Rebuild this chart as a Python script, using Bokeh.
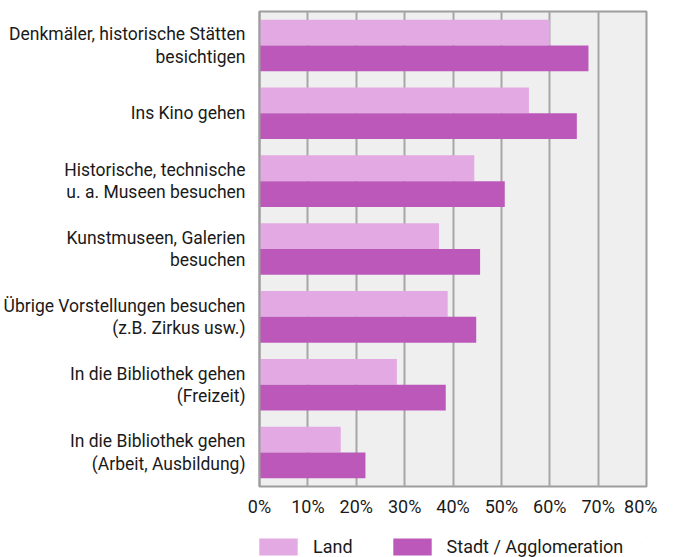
from bokeh.plotting import figure
from bokeh.layouts import column
from bokeh.models import (ColumnDataSource, FactorRange, Range1d, FixedTicker,
                          NumeralTickFormatter, Legend, LegendItem)
from bokeh.transform import dodge
from bokeh.embed import file_html
from bokeh.resources import INLINE

categories = [
    "Denkmäler, historische Stätten\nbesichtigen",
    "Ins Kino gehen",
    "Historische, technische\nu. a. Museen besuchen",
    "Kunstmuseen, Galerien\nbesuchen",
    "Übrige Vorstellungen besuchen\n(z.B. Zirkus usw.)",
    "In die Bibliothek gehen\n(Freizeit)",
    "In die Bibliothek gehen\n(Arbeit, Ausbildung)",
]
land = [0.60, 0.557, 0.444, 0.371, 0.389, 0.284, 0.168]
stadt = [0.68, 0.656, 0.507, 0.456, 0.448, 0.385, 0.219]
x_ticks = [0.0, 0.1, 0.2, 0.3, 0.4, 0.5, 0.6, 0.7, 0.8]
series_names = ["Land", "Stadt / Agglomeration"]

FONT = "Roboto"
LAND_COLOR = "#e3a9e2"
STADT_COLOR = "#bc58ba"
TEXT_COLOR = "#1a1a1a"

src = ColumnDataSource(dict(cat=categories, land=land, stadt=stadt))

p = figure(width=657, height=536, output_backend="svg", toolbar_location=None,
           y_range=FactorRange(factors=list(reversed(categories))),
           x_range=Range1d(0, 0.8),
           min_border_left=251, min_border_right=11, min_border_top=11,
           min_border_bottom=50)

r_land = p.hbar(y=dodge("cat", 0.19, range=p.y_range), left=0, right="land",
                height=0.38, source=src, fill_color=LAND_COLOR, line_color=None)
r_stadt = p.hbar(y=dodge("cat", -0.19, range=p.y_range), left=0, right="stadt",
                 height=0.38, source=src, fill_color=STADT_COLOR, line_color=None)

p.background_fill_color = "#efefef"
p.border_fill_color = "white"
p.outline_line_color = "#9d9d9d"
p.outline_line_width = 2

p.ygrid.grid_line_color = None
p.xgrid.grid_line_color = "#a6a6a6"
p.xgrid.grid_line_width = 2

xa = p.xaxis[0]
xa.ticker = FixedTicker(ticks=x_ticks)
xa.formatter = NumeralTickFormatter(format="0%")
xa.axis_line_color = None
xa.major_tick_line_color = None
xa.minor_tick_line_color = None
xa.major_label_standoff = 3
xa.major_label_text_font = FONT
xa.major_label_text_font_size = "18px"
xa.major_label_text_color = TEXT_COLOR

ya = p.yaxis[0]
ya.axis_line_color = "#9d9d9d"
ya.axis_line_width = 2
ya.major_tick_line_color = None
ya.minor_tick_line_color = None
ya.major_label_standoff = 8
ya.major_label_text_font = FONT
ya.major_label_text_font_size = "17.5px"
ya.major_label_text_color = TEXT_COLOR
ya.major_label_text_align = "right"
ya.major_label_text_line_height = 1.12

# Legend in its own strip below the chart (frame aligned with main frame)
lf = figure(width=657, height=21, output_backend="svg", toolbar_location=None,
            x_range=Range1d(0, 1), y_range=Range1d(0, 1),
            min_border_left=0, min_border_right=0, min_border_top=0,
            min_border_bottom=0)
lf.xaxis.visible = False
lf.yaxis.visible = False
lf.grid.visible = False
lf.outline_line_color = None
lf.background_fill_color = None
lsrc = ColumnDataSource(dict(y=[5], l=[5], r=[6]))
dl = lf.hbar(y="y", left="l", right="r", height=1, source=lsrc,
             fill_color=LAND_COLOR, line_color=None)
ds = lf.hbar(y="y", left="l", right="r", height=1, source=lsrc,
             fill_color=STADT_COLOR, line_color=None)
legend = Legend(items=[LegendItem(label=series_names[0], renderers=[dl]),
                       LegendItem(label=series_names[1], renderers=[ds])],
                orientation="horizontal", location=(-5, 0),
                glyph_width=48, glyph_height=21, label_standoff=11, spacing=35,
                padding=0, margin=0, border_line_color=None,
                background_fill_alpha=0,
                label_text_font=FONT, label_text_font_size="18px",
                label_text_color=TEXT_COLOR)
lf.add_layout(legend, "center")

layout = column(p, lf, spacing=0)
open("out.html", "w").write(file_html(layout, INLINE))
